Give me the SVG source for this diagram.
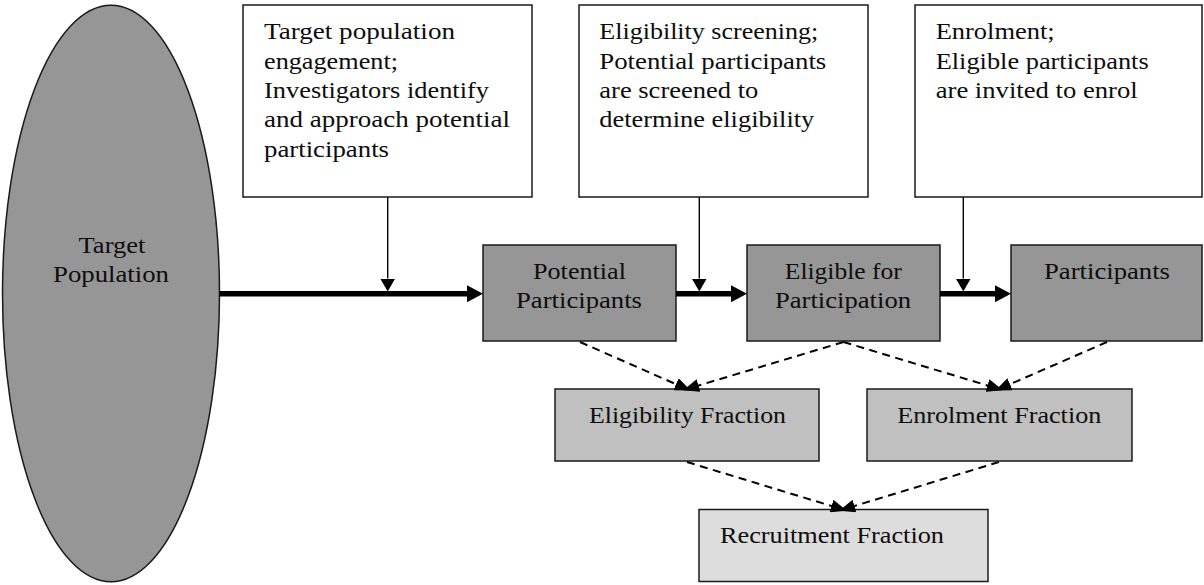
<svg xmlns="http://www.w3.org/2000/svg" width="1204" height="585" viewBox="0 0 1204 585">
<style>
  text { font-family: "Liberation Serif", "DejaVu Serif", serif; font-size: 23px; fill: #0d0d0d; }
  .c { text-anchor: middle; }
  .box { stroke: #1a1a1a; stroke-width: 1.5; }
  .white { fill: #ffffff; }
  .dark { fill: #969696; }
  .light { fill: #c0c0c0; }
  .lighter { fill: #dddddd; }
  .thick { stroke: #000; stroke-width: 5.5; fill: none; marker-end: url(#bigArrow); }
  .thin { stroke: #000; stroke-width: 1.4; fill: none; marker-end: url(#smallArrow); }
  .dash { stroke: #000; stroke-width: 2; fill: none; stroke-dasharray: 8 5.5; marker-end: url(#dashArrow); }
</style>
<defs>
  <marker id="bigArrow" markerUnits="userSpaceOnUse" markerWidth="17" markerHeight="17" refX="0" refY="8.5" orient="auto" viewBox="0 0 17 17">
    <path d="M0,0 L16,8.5 L0,17 z" fill="#000"/>
  </marker>
  <marker id="smallArrow" markerUnits="userSpaceOnUse" markerWidth="14" markerHeight="15" refX="0" refY="7.5" orient="auto" viewBox="0 0 14 15">
    <path d="M0,0 L13,7.5 L0,15 z" fill="#000"/>
  </marker>
  <marker id="dashArrow" markerUnits="userSpaceOnUse" markerWidth="16" markerHeight="13" refX="12" refY="6.5" orient="auto" viewBox="0 0 16 13">
    <path d="M0,0 L16,6.5 L0,13 z" fill="#000"/>
  </marker>
</defs>

<g id="target-population">
  <ellipse cx="111" cy="293.5" rx="108.5" ry="288.3" class="box dark"/>
  <text x="112" y="253" class="c" textLength="67" lengthAdjust="spacingAndGlyphs">Target</text>
  <text x="111" y="281.7" class="c" textLength="116" lengthAdjust="spacingAndGlyphs">Population</text>
</g>

<g id="engagement-note">
  <rect x="243" y="5" width="289" height="192" class="box white"/>
  <text x="264" y="39.3" textLength="191" lengthAdjust="spacingAndGlyphs">Target population</text>
  <text x="264" y="68.6" textLength="134" lengthAdjust="spacingAndGlyphs">engagement;</text>
  <text x="264" y="97.9" textLength="225" lengthAdjust="spacingAndGlyphs">Investigators identify</text>
  <text x="264" y="127.2" textLength="246" lengthAdjust="spacingAndGlyphs">and approach potential</text>
  <text x="264" y="156.5" textLength="125" lengthAdjust="spacingAndGlyphs">participants</text>
</g>

<g id="screening-note">
  <rect x="579" y="5" width="289" height="192" class="box white"/>
  <text x="599.3" y="39.3" textLength="219" lengthAdjust="spacingAndGlyphs">Eligibility screening;</text>
  <text x="599.3" y="68.6" textLength="227" lengthAdjust="spacingAndGlyphs">Potential participants</text>
  <text x="599.3" y="97.9" textLength="159" lengthAdjust="spacingAndGlyphs">are screened to</text>
  <text x="599.3" y="127.2" textLength="215" lengthAdjust="spacingAndGlyphs">determine eligibility</text>
</g>

<g id="enrolment-note">
  <rect x="915" y="5" width="287" height="192" class="box white"/>
  <text x="935.7" y="39.3" textLength="119" lengthAdjust="spacingAndGlyphs">Enrolment;</text>
  <text x="935.7" y="68.6" textLength="213" lengthAdjust="spacingAndGlyphs">Eligible participants</text>
  <text x="935.7" y="97.9" textLength="202" lengthAdjust="spacingAndGlyphs">are invited to enrol</text>
</g>

<g id="potential-participants">
  <rect x="483" y="245" width="193" height="96" class="box dark"/>
  <text x="579.5" y="279.3" class="c" textLength="93" lengthAdjust="spacingAndGlyphs">Potential</text>
  <text x="579" y="308.3" class="c" textLength="126" lengthAdjust="spacingAndGlyphs">Participants</text>
</g>

<g id="eligible-for-participation">
  <rect x="747" y="245" width="193" height="96" class="box dark"/>
  <text x="843.3" y="279.3" class="c" textLength="117" lengthAdjust="spacingAndGlyphs">Eligible for</text>
  <text x="843" y="308.3" class="c" textLength="136" lengthAdjust="spacingAndGlyphs">Participation</text>
</g>

<g id="participants">
  <rect x="1011" y="245" width="191" height="96" class="box dark"/>
  <text x="1107" y="279.3" class="c" textLength="126" lengthAdjust="spacingAndGlyphs">Participants</text>
</g>

<g id="eligibility-fraction">
  <rect x="555" y="389" width="264" height="72" class="box light"/>
  <text x="589" y="423.3" textLength="197" lengthAdjust="spacingAndGlyphs">Eligibility Fraction</text>
</g>

<g id="enrolment-fraction">
  <rect x="867" y="389" width="265" height="72" class="box light"/>
  <text x="897.3" y="423.3" textLength="204" lengthAdjust="spacingAndGlyphs">Enrolment Fraction</text>
</g>

<g id="recruitment-fraction">
  <rect x="699" y="509.5" width="289" height="72" class="box lighter"/>
  <text x="720" y="543.3" textLength="224" lengthAdjust="spacingAndGlyphs">Recruitment Fraction</text>
</g>

<g id="connectors">
  <line x1="219.5" y1="293.7" x2="467" y2="293.7" class="thick"/>
  <line x1="676" y1="293.7" x2="731" y2="293.7" class="thick"/>
  <line x1="940" y1="293.7" x2="995" y2="293.7" class="thick"/>

  <line x1="387.7" y1="197" x2="387.7" y2="278.5" class="thin"/>
  <line x1="699.3" y1="197" x2="699.3" y2="278.5" class="thin"/>
  <line x1="963.3" y1="197" x2="963.3" y2="278.5" class="thin"/>

  <line x1="580" y1="342" x2="687" y2="389" class="dash"/>
  <line x1="843.5" y1="342" x2="687" y2="389" class="dash"/>
  <line x1="843.5" y1="342" x2="999" y2="389" class="dash"/>
  <line x1="1107" y1="342" x2="999" y2="389" class="dash"/>
  <line x1="687" y1="462" x2="843" y2="509.5" class="dash"/>
  <line x1="999" y1="462" x2="843" y2="509.5" class="dash"/>
</g>
</svg>
